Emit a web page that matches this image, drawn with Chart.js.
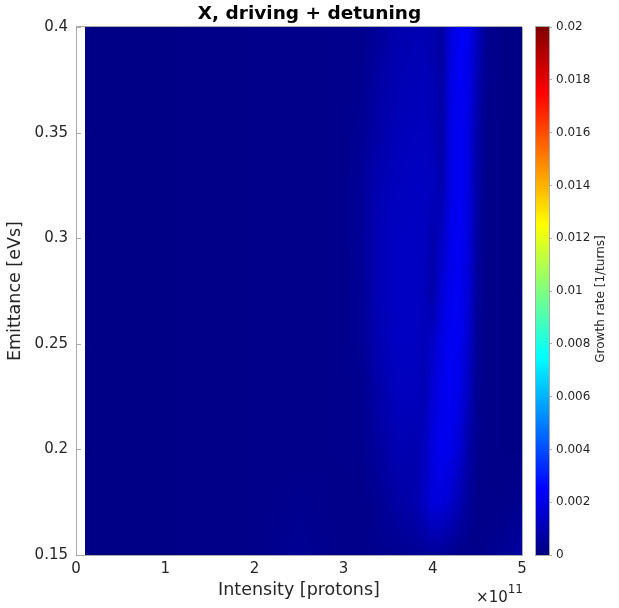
<!DOCTYPE html>
<html>
<head>
<meta charset="utf-8">
<script src="https://cdn.jsdelivr.net/npm/chart.js@4"></script>
<style>
  html, body { margin: 0; padding: 0; background: #fff; }
  #wrap { position: relative; width: 619px; height: 608px; }
  #wrap canvas { position: absolute; left: 0; top: 0; }
</style>
</head>
<body>
<div id="wrap">
  <canvas id="main" width="619" height="608"></canvas>
  <canvas id="cbar" width="619" height="608"></canvas>
</div>
<script>
'use strict';

// grid of the scan: intensity [protons] x emittance [eVs]
var intensity = [0.1e11, 1.0e11, 2.0e11, 2.5e11, 3.0e11, 3.2e11, 3.4e11, 3.6e11, 3.8e11, 3.9e11,
                 4.0e11, 4.1e11, 4.2e11, 4.3e11, 4.4e11, 4.5e11, 4.6e11, 4.8e11, 5.0e11];
var emittance = [0.15, 0.175, 0.2, 0.225, 0.25, 0.275, 0.3, 0.325, 0.35, 0.375, 0.4];

// growth rate [1/turns], one row per emittance (bottom to top), one column per intensity
var growth = [
  [.00015, .00015, .0002, .0004, .0002, .0002, .0003, .0003, .0004, .0004, .0005, .0004, .0003, .0002, .0002, .0002, .0003, .0004, .0007],
  [.00015, .00015, .0002, .0003, .0002, .0002, .0004, .0007, .0009, .0013, .0018, .0018, .0015, .0010, .0005, .0002, .0002, .0002, .0003],
  [.00015, .00015, .0002, .0002, .00025, .0003, .0006, .0010, .0009, .0012, .0019, .0022, .0021, .0016, .0008, .0003, .0002, .00015, .00015],
  [.00015, .00015, .0002, .0002, .00025, .0003, .0008, .0012, .0012, .0010, .0017, .0021, .0023, .0020, .0012, .0003, .0002, .00015, .00015],
  [.00015, .00015, .0002, .0002, .00025, .0004, .0010, .0013, .0013, .0011, .0014, .0020, .0023, .0022, .0015, .0004, .0002, .00015, .00015],
  [.00015, .00015, .0002, .0002, .00025, .0004, .0011, .0013, .0013, .0012, .0008, .0017, .0022, .0023, .0017, .0005, .0002, .00015, .00015],
  [.00015, .00015, .0002, .0002, .00025, .0005, .0011, .0013, .0013, .0012, .0009, .0013, .0021, .0023, .0018, .0006, .0002, .00015, .00015],
  [.00015, .00015, .0002, .0002, .00025, .0005, .0010, .0012, .0013, .0013, .0012, .0009, .0020, .0023, .0019, .0007, .0002, .00015, .00015],
  [.00015, .00015, .0002, .0002, .00025, .0004, .0008, .0011, .0012, .0012, .0011, .0008, .0020, .0023, .0019, .0008, .0002, .00015, .00015],
  [.00015, .00015, .0002, .0002, .00025, .0003, .0007, .0010, .0011, .0011, .0010, .0007, .0019, .0023, .0021, .0010, .0003, .00015, .00015],
  [.00015, .00015, .0002, .0002, .00025, .0003, .0005, .0009, .0010, .0010, .0009, .0006, .0018, .0023, .0022, .0013, .0003, .00015, .00015]
];

var xTicks = [0, 1e11, 2e11, 3e11, 4e11, 5e11];
var cMin = 0, cMax = 0.02;

var axisGray = '#a9a9a9';
var textGray = '#262626';
var fontFamily = "'DejaVu Sans', sans-serif";

function clamp01(v) { return Math.max(0, Math.min(1, v)); }

// MATLAB jet
function jet(t) {
  t = clamp01(t);
  return [
    Math.round(255 * clamp01(1.5 - Math.abs(4 * t - 3))),
    Math.round(255 * clamp01(1.5 - Math.abs(4 * t - 2))),
    Math.round(255 * clamp01(1.5 - Math.abs(4 * t - 1)))
  ];
}

function findCell(arr, v) {
  var n = arr.length;
  if (v <= arr[0]) return { i: 0, f: 0 };
  if (v >= arr[n - 1]) return { i: n - 2, f: 1 };
  for (var i = 0; i < n - 1; i++) {
    if (v <= arr[i + 1]) return { i: i, f: (v - arr[i]) / (arr[i + 1] - arr[i]) };
  }
  return { i: n - 2, f: 1 };
}

// shading interp: bilinear between grid nodes, placed with the chart scales
var heatmapPlugin = {
  id: 'heatmap',
  beforeDatasetsDraw: function(chart) {
    var xs = chart.scales.x, ys = chart.scales.y, ctx = chart.ctx;
    var x0 = Math.round(xs.getPixelForValue(intensity[0]));
    var x1 = Math.round(xs.getPixelForValue(intensity[intensity.length - 1]));
    var y0 = Math.round(ys.getPixelForValue(emittance[emittance.length - 1]));
    var y1 = Math.round(ys.getPixelForValue(emittance[0]));
    var w = x1 - x0, h = y1 - y0;
    var img = ctx.createImageData(w, h);
    var cols = [];
    for (var px = 0; px < w; px++) {
      cols.push(findCell(intensity, xs.getValueForPixel(x0 + px + 0.5)));
    }
    for (var py = 0; py < h; py++) {
      var r = findCell(emittance, ys.getValueForPixel(y0 + py + 0.5));
      var lo = growth[r.i], hi = growth[r.i + 1];
      for (px = 0; px < w; px++) {
        var c = cols[px];
        var a = lo[c.i] + (lo[c.i + 1] - lo[c.i]) * c.f;
        var b = hi[c.i] + (hi[c.i + 1] - hi[c.i]) * c.f;
        var v = a + (b - a) * r.f;
        var rgb = jet((v - cMin) / (cMax - cMin));
        var k = (py * w + px) * 4;
        img.data[k] = rgb[0];
        img.data[k + 1] = rgb[1];
        img.data[k + 2] = rgb[2];
        img.data[k + 3] = 255;
      }
    }
    ctx.putImageData(img, x0, y0);
  },
  afterDraw: function(chart) {
    var ctx = chart.ctx, area = chart.chartArea, ys = chart.scales.y;
    ctx.save();
    ctx.strokeStyle = axisGray;
    ctx.lineWidth = 1;
    ctx.beginPath();
    // top and right edges of the box
    ctx.moveTo(area.left, Math.round(area.top) - 0.5);
    ctx.lineTo(area.right, Math.round(area.top) - 0.5);
    ctx.moveTo(Math.round(area.right) + 0.5, area.top);
    ctx.lineTo(Math.round(area.right) + 0.5, area.bottom);
    // inward y ticks
    ys.ticks.forEach(function(t) {
      var py = Math.round(ys.getPixelForValue(t.value)) + 0.5;
      ctx.moveTo(area.left, py);
      ctx.lineTo(area.left + 5, py);
    });
    ctx.stroke();

    // exponent label
    ctx.fillStyle = textGray;
    ctx.textAlign = 'right';
    ctx.textBaseline = 'alphabetic';
    ctx.font = '12px ' + fontFamily;
    ctx.fillText('11', area.right + 1, 593);
    var w11 = ctx.measureText('11').width;
    ctx.font = '15px ' + fontFamily;
    ctx.fillText('\u00d710', area.right + 1 - w11, 602);
    ctx.restore();
  }
};

new Chart(document.getElementById('main'), {
  type: 'scatter',
  data: {
    datasets: [{
      data: [],
      pointRadius: 0
    }]
  },
  options: {
    responsive: false,
    animation: false,
    events: [],
    layout: { padding: 0 },
    plugins: {
      legend: { display: false },
      tooltip: { enabled: false },
      title: {
        display: true,
        text: 'X, driving + detuning',
        color: '#000',
        font: { family: fontFamily, size: 18.5, weight: 'bold' },
        padding: { top: 3, bottom: 2 }
      }
    },
    scales: {
      x: {
        type: 'linear',
        min: 0,
        max: 5e11,
        afterBuildTicks: function(scale) {
          scale.ticks = xTicks.map(function(v) { return { value: v }; });
        },
        afterFit: function(scale) { scale.height = 53; },
        grid: { display: true, drawOnChartArea: false, drawTicks: false },
        border: { color: axisGray },
        ticks: {
          color: textGray,
          padding: 5,
          maxRotation: 0,
          font: { family: fontFamily, size: 15 },
          callback: function(v) { return String(Math.round(v / 1e11)); }
        },
        title: {
          display: true,
          text: 'Intensity [protons]',
          color: textGray,
          font: { family: fontFamily, size: 17.5 },
          padding: { top: 0, bottom: 7 }
        }
      },
      y: {
        type: 'linear',
        min: 0.15,
        max: 0.4,
        afterFit: function(scale) { scale.width = 76; },
        grid: { display: true, drawOnChartArea: false, drawTicks: false },
        border: { color: axisGray },
        ticks: {
          stepSize: 0.05,
          color: textGray,
          padding: 8,
          font: { family: fontFamily, size: 15 },
          callback: function(v) { return String(parseFloat(v.toFixed(2))); }
        },
        title: {
          display: true,
          text: 'Emittance [eVs]',
          color: textGray,
          font: { family: fontFamily, size: 17.5 },
          padding: { top: 5, bottom: 0 }
        }
      },
      // empty strip on the right that leaves room for the colorbar
      yRoom: {
        type: 'linear',
        position: 'right',
        min: 0,
        max: 1,
        afterFit: function(scale) { scale.width = 97; },
        grid: { display: false },
        border: { display: false },
        ticks: { display: false }
      }
    }
  },
  plugins: [heatmapPlugin]
});

// colorbar
var colorbarPlugin = {
  id: 'colorbar',
  beforeDatasetsDraw: function(chart) {
    var ctx = chart.ctx, area = chart.chartArea, ys = chart.scales.y;
    var top = Math.round(area.top), bottom = Math.round(area.bottom);
    for (var py = top; py < bottom; py++) {
      var rgb = jet((ys.getValueForPixel(py + 0.5) - cMin) / (cMax - cMin));
      ctx.fillStyle = 'rgb(' + rgb.join(',') + ')';
      ctx.fillRect(area.left, py, area.right - area.left, 1);
    }
    ctx.save();
    ctx.strokeStyle = axisGray;
    ctx.lineWidth = 1;
    ctx.strokeRect(Math.round(area.left) - 0.5, top - 0.5, area.right - area.left + 1, bottom - top + 1);
    ctx.fillStyle = textGray;
    ctx.font = '12px ' + fontFamily;
    ctx.textAlign = 'center';
    ctx.textBaseline = 'middle';
    ctx.translate(601, 299);
    ctx.rotate(-Math.PI / 2);
    ctx.fillText('Growth rate [1/turns]', 0, 0);
    ctx.restore();
  }
};

new Chart(document.getElementById('cbar'), {
  type: 'scatter',
  data: { datasets: [] },
  options: {
    responsive: false,
    animation: false,
    events: [],
    layout: { padding: { left: 536, right: 0, top: 27, bottom: 53 } },
    plugins: {
      legend: { display: false },
      tooltip: { enabled: false }
    },
    scales: {
      x: { display: false },
      y: {
        position: 'right',
        min: cMin,
        max: cMax,
        afterFit: function(scale) { scale.width = 70; },
        grid: { display: true, drawOnChartArea: false, tickLength: 3, color: axisGray },
        border: { color: axisGray },
        ticks: {
          stepSize: 0.002,
          color: textGray,
          padding: 4,
          font: { family: fontFamily, size: 12 },
          callback: function(v) { return String(parseFloat(v.toFixed(3))); }
        }
      }
    }
  },
  plugins: [colorbarPlugin]
});
</script>
</body>
</html>
